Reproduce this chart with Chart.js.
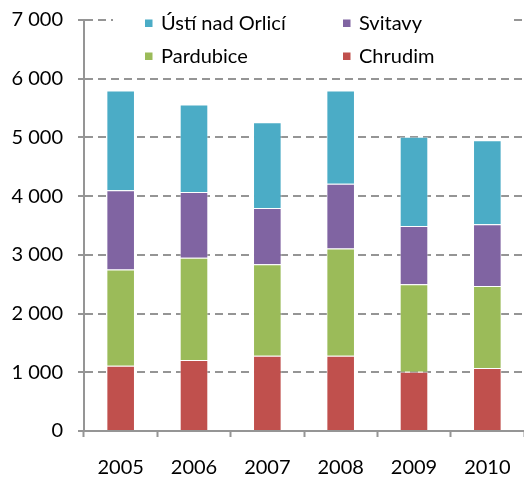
<!DOCTYPE html>
<html>
<head>
<meta charset="utf-8">
<script src="https://cdn.jsdelivr.net/npm/chart.js@4/dist/chart.umd.min.js"></script>
<style>
  html, body { margin: 0; padding: 0; background: #fff; }
  #wrap { position: relative; width: 524px; height: 477px; }
</style>
</head>
<body>
<div id="wrap"><canvas id="regionChart" width="524" height="477"></canvas></div>
<script>
var years = ["2005", "2006", "2007", "2008", "2009", "2010"];
// values per district, stacked bottom to top
var chrudim   = [1110, 1210, 1280, 1280, 1010, 1075];
var pardubice = [1640, 1740, 1560, 1830, 1490, 1395];
var svitavy   = [1350, 1120,  960, 1100,  990, 1050];
var usti      = [1700, 1490, 1460, 1590, 1520, 1430];
var yTicks    = [0, 1000, 2000, 3000, 4000, 5000, 6000, 7000];

var FONT = "Lato, 'Liberation Sans', sans-serif";
var gridGrey = "#959595";

function fmt(v) {
  return String(v).replace(/\B(?=(\d{3})+(?!\d))/g, " ");
}

function mkSet(label, data, color) {
  return {
    label: label,
    data: data,
    backgroundColor: color,
    borderColor: "rgba(255,255,255,0.45)",
    borderWidth: 1,
    categoryPercentage: 1.0,
    barPercentage: 0.39
  };
}

// legend sits inside the plot, over the top gridline, in two rows
var boxLegend = {
  id: "boxLegend",
  afterDraw: function(chart) {
    var ctx = chart.ctx;
    var ds = chart.data.datasets;
    ctx.save();
    ctx.fillStyle = "#fff";
    ctx.fillRect(113, 4, 398, 68);
    var items = [
      { i: 3, x: 145, y: 23 },
      { i: 2, x: 343, y: 23 },
      { i: 1, x: 145, y: 56 },
      { i: 0, x: 343, y: 56 }
    ];
    ctx.font = "20px " + FONT;
    ctx.textBaseline = "middle";
    items.forEach(function(it) {
      ctx.fillStyle = ds[it.i].backgroundColor;
      ctx.fillRect(it.x, it.y - 3.5, 7.5, 7.5);
      ctx.fillStyle = "#000";
      ctx.fillText(ds[it.i].label, it.x + 16, it.y + 1);
    });
    ctx.restore();
  }
};

var myChart = new Chart(document.getElementById("regionChart"), {
  type: "bar",
  data: {
    labels: years,
    datasets: [
      mkSet("Chrudim", chrudim, "#C0504D"),
      mkSet("Pardubice", pardubice, "#9BBB59"),
      mkSet("Svitavy", svitavy, "#8064A2"),
      mkSet("Ústí nad Orlicí", usti, "#4BACC6")
    ]
  },
  options: {
    responsive: false,
    animation: false,
    layout: { padding: { top: 20, right: 0, left: 0, bottom: 0 } },
    plugins: {
      legend: { display: false },
      tooltip: { enabled: false }
    },
    scales: {
      x: {
        stacked: true,
        afterFit: function(s) {
          s.height = 46;
          s.paddingLeft = 0;
          s.paddingRight = 0;
        },
        border: { display: true, color: gridGrey, width: 2 },
        grid: {
          offset: true,
          drawOnChartArea: false,
          drawTicks: true,
          tickLength: 6,
          tickWidth: 2,
          tickColor: gridGrey
        },
        ticks: {
          color: "#000",
          padding: 19,
          font: { family: FONT, size: 20 }
        }
      },
      y: {
        stacked: true,
        min: 0,
        max: 7000,
        afterFit: function(s) {
          s.width = 84;
          s.paddingTop = 0;
          s.paddingBottom = 0;
        },
        afterBuildTicks: function(s) {
          s.ticks = yTicks.map(function(v) { return { value: v }; });
        },
        border: { display: true, color: gridGrey, width: 2, dash: [8, 5] },
        grid: {
          color: gridGrey,
          lineWidth: 2,
          tickLength: 6,
          tickColor: gridGrey,
          tickWidth: 2,
          tickBorderDash: [],
          drawTicks: true
        },
        ticks: {
          color: "#000",
          padding: 15,
          font: { family: FONT, size: 20 },
          callback: function(v) { return fmt(v); }
        }
      }
    }
  },
  plugins: [boxLegend]
});
</script>
</body>
</html>
